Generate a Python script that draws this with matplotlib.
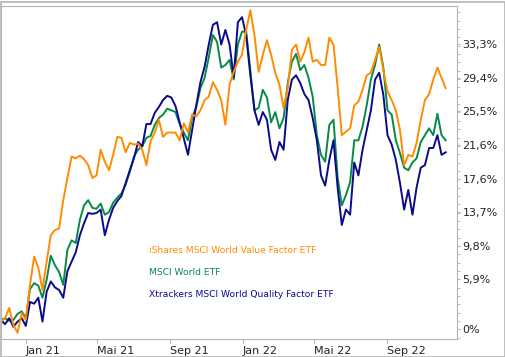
import matplotlib
matplotlib.use('Agg')
import matplotlib.pyplot as plt
import matplotlib.dates as mdates
from matplotlib.ticker import FixedLocator, MultipleLocator
from matplotlib.patches import Rectangle
import pandas as pd

# weekly closes, performance in % since start
dates = pd.date_range('2020-11-20', periods=108, freq='7D')

value_etf = [0.9, 1.3, 2.5, 0.5, -0.4, 1.9, 1.1, 5.2, 8.5, 7.2,
             4.6, 7.9, 11.0, 11.6, 11.8, 15.1, 17.7, 20.2, 20.0, 20.3,
             19.9, 19.2, 17.7, 18.0, 21.0, 19.6, 18.6, 20.4, 22.5, 22.4,
             20.7, 21.8, 21.6, 21.7, 21.0, 19.2, 22.0, 23.0, 24.5, 22.5,
             23.0, 23.0, 23.0, 22.1, 24.1, 23.0, 25.1, 24.9, 25.6, 26.8,
             27.2, 28.9, 28.0, 26.8, 23.9, 28.6, 30.1, 31.3, 32.1, 35.0,
             37.3, 34.4, 30.1, 32.1, 33.8, 32.1, 30.0, 28.6, 25.9, 28.2,
             32.7, 33.3, 31.3, 32.4, 34.1, 31.3, 31.5, 30.9, 30.9, 34.1,
             33.3, 28.3, 22.7, 23.1, 23.5, 26.2, 26.6, 28.0, 29.7, 30.0,
             31.5, 33.0, 30.3, 27.8, 26.8, 25.6, 23.3, 19.2, 20.4, 20.2,
             21.8, 24.5, 26.8, 27.5, 29.2, 30.6, 29.4, 28.2]

world_etf = [1.1, 1.3, 1.0, 1.1, 1.8, 2.1, 1.3, 4.7, 5.4, 5.1,
             3.7, 5.8, 8.6, 7.5, 6.7, 5.2, 9.3, 10.4, 10.1, 12.8,
             14.5, 15.1, 14.2, 14.1, 14.7, 13.4, 13.7, 14.8, 15.4, 15.9,
             16.9, 18.4, 20.2, 21.0, 21.4, 22.4, 22.6, 23.9, 24.7, 25.1,
             25.8, 25.6, 25.4, 24.0, 23.0, 22.1, 24.8, 26.0, 28.2, 29.4,
             31.8, 34.4, 33.6, 30.6, 30.9, 31.5, 29.2, 33.3, 34.8, 34.8,
             30.3, 25.6, 25.9, 28.0, 27.1, 24.2, 25.4, 23.5, 24.7, 28.8,
             31.3, 32.2, 30.3, 30.9, 29.4, 27.2, 22.7, 20.4, 19.6, 23.9,
             24.5, 17.8, 14.5, 15.7, 17.2, 22.1, 22.1, 23.7, 26.2, 29.2,
             30.9, 33.3, 30.6, 25.6, 25.1, 22.1, 20.6, 18.9, 18.6, 19.5,
             20.0, 21.9, 22.7, 23.5, 22.7, 25.2, 22.7, 22.1]

quality_etf = [1.1, 0.6, 1.3, 0.3, 0.9, 1.3, 0.4, 3.2, 3.0, 3.7,
               0.9, 4.4, 5.6, 4.9, 4.6, 3.7, 6.8, 7.9, 9.0, 11.0,
               12.4, 13.6, 13.5, 13.6, 14.0, 11.0, 12.8, 14.2, 15.0, 15.6,
               17.1, 18.6, 20.0, 21.9, 21.4, 24.0, 24.0, 25.3, 26.0, 26.8,
               27.3, 27.1, 26.1, 24.2, 22.3, 20.4, 23.3, 26.2, 28.9, 30.7,
               33.3, 35.6, 35.9, 33.3, 35.0, 33.3, 29.5, 35.9, 36.5, 34.4,
               29.7, 25.6, 23.9, 25.4, 24.5, 21.0, 19.8, 21.9, 21.0, 26.8,
               29.2, 29.7, 28.8, 27.5, 26.8, 24.7, 22.1, 18.0, 16.8, 19.8,
               22.1, 16.6, 12.2, 14.0, 13.4, 19.5, 18.0, 21.0, 23.3, 25.6,
               29.2, 30.0, 27.4, 22.7, 21.6, 19.8, 17.1, 14.0, 16.3, 13.4,
               16.6, 18.9, 19.2, 21.2, 21.2, 22.7, 20.4, 20.7]

names = ['iShares MSCI World Value Factor ETF',
         'MSCI World ETF',
         'Xtrackers MSCI World Quality Factor ETF']
colors = ['#ff8c00', '#078a45', '#0a0a8c']

ytick_vals = [0, 5.9, 9.8, 13.7, 17.6, 21.6, 25.5, 29.4, 33.3]
ytick_labels = ['0%', '5,9%', '9,8%', '13,7%', '17,6%', '21,6%', '25,5%', '29,4%', '33,3%']
xtick_dates = ['2021-01-01', '2021-05-01', '2021-09-01', '2022-01-01', '2022-05-01', '2022-09-01']
xtick_labels = ['Jan 21', 'Mai 21', 'Sep 21', 'Jan 22', 'Mai 22', 'Sep 22']

fig = plt.figure(figsize=(5.06, 3.57), dpi=100)
fig.patches.append(Rectangle((0.001, 0.001), 0.997, 0.993, transform=fig.transFigure,
                             fill=False, edgecolor='#b4b4b4', linewidth=1.2))
ax = fig.add_axes([1.5 / 506, 18 / 357, 455.5 / 506, 333 / 357])

ax.plot(dates, world_etf, color=colors[1], linewidth=1.4)
ax.plot(dates, quality_etf, color=colors[2], linewidth=1.4)
ax.plot(dates, value_etf, color=colors[0], linewidth=1.4)

ax.set_xlim(pd.Timestamp('2020-11-21'), pd.Timestamp('2022-12-28'))
ax.set_ylim(-1.13, 37.8)

for s in ax.spines.values():
    s.set_color('#b4b4b4')
    s.set_linewidth(0.8)

ax.yaxis.tick_right()
ax.yaxis.set_major_locator(FixedLocator(ytick_vals))
ax.set_yticklabels(ytick_labels)
ax.yaxis.set_minor_locator(MultipleLocator(0.975))
ax.tick_params(axis='y', which='both', length=2, color='#b4b4b4', pad=2,
               labelsize=8, labelcolor='#222222')

ax.set_xticks([mdates.date2num(pd.Timestamp(d)) for d in xtick_dates])
ax.set_xticklabels(xtick_labels, ha='left')
ax.tick_params(axis='x', length=3, color='#b4b4b4', pad=2, labelsize=8,
               labelcolor='#222222')

# inline legend, one line of text per series
for i, (name, c) in enumerate(zip(names, colors)):
    ax.text(0.324, 0.267 - i * 0.0665, name, transform=ax.transAxes, color=c,
            fontsize=6.6, va='center', ha='left')

fig.savefig('out.png', dpi=100)
